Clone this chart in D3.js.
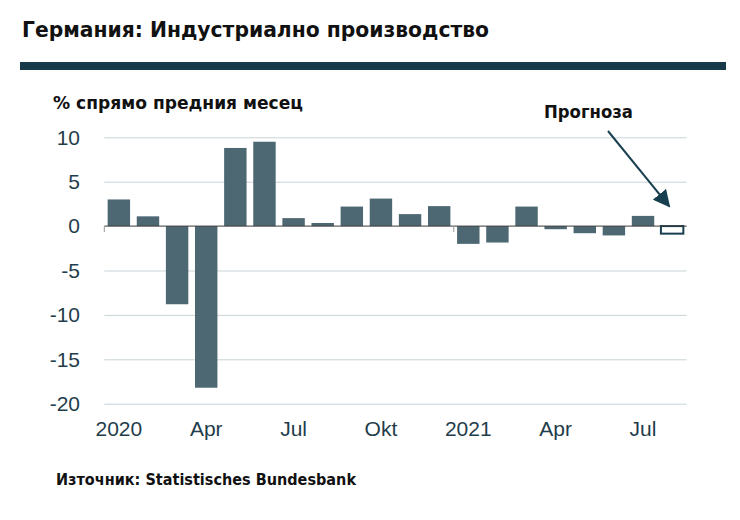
<!DOCTYPE html>
<html>
<head>
<meta charset="utf-8">
<script src="https://cdn.jsdelivr.net/npm/d3@7"></script>
<style>
  body { margin: 0; background: #fff; }
  svg { display: block; }
</style>
</head>
<body>
<script>
/* Data */
const months = ["2020-01","2020-02","2020-03","2020-04","2020-05","2020-06","2020-07","2020-08",
  "2020-09","2020-10","2020-11","2020-12","2021-01","2021-02","2021-03","2021-04","2021-05",
  "2021-06","2021-07","2021-08"];
const values = [3.0, 1.1, -8.8, -18.2, 8.8, 9.5, 0.9, 0.35, 2.2, 3.1, 1.35, 2.25,
  -2.0, -1.85, 2.2, -0.35, -0.8, -1.05, 1.15, -0.85];
const forecastMonth = "2021-08";
const tickMonths = ["2020-01","2020-04","2020-07","2020-10","2021-01","2021-04","2021-07"];
const tickLabels = ["2020","Apr","Jul","Okt","2021","Apr","Jul"];
const yTicks = [-20, -15, -10, -5, 0, 5, 10];
const yearStarts = ["2020-01","2021-01"];

/* Constants */
const w = 740;
const h = 520;
const plotLeft = 104.3, plotRight = 686.7;
const plotTop = 137.3, plotBottom = 403.7;
const barColor = "#4d6873";
const darkTeal = "#173f4f";
const textColor = "#1f3d4b";

const svg = d3.select("body").append("svg")
  .attr("width", w)
  .attr("height", h);

/* Title */
svg.append("text")
  .attr("x", 22).attr("y", 37)
  .attr("font-family", "DejaVu Sans")
  .attr("font-weight", "bold")
  .attr("font-size", 21)
  .attr("textLength", 467)
  .attr("lengthAdjust", "spacingAndGlyphs")
  .attr("fill", "#111")
  .text("Германия: Индустриално производство");

svg.append("rect")
  .attr("x", 20).attr("y", 62)
  .attr("width", 706).attr("height", 8)
  .attr("fill", "#183a48");

svg.append("text")
  .attr("x", 53).attr("y", 109)
  .attr("font-family", "DejaVu Sans")
  .attr("font-weight", "bold")
  .attr("font-size", 17)
  .attr("textLength", 250)
  .attr("lengthAdjust", "spacingAndGlyphs")
  .attr("fill", "#111")
  .text("% спрямо предния месец");

/* Scales */
const xScale = d3.scaleBand()
  .domain(months)
  .range([plotLeft, plotRight])
  .paddingInner(0.23)
  .paddingOuter(0.115);

const yScale = d3.scaleLinear()
  .domain([-20, 10])
  .range([plotBottom, plotTop]);

/* Grid */
const grid = svg.append("g")
  .attr("transform", "translate(" + plotLeft + ",0)")
  .call(d3.axisLeft(yScale).tickValues(yTicks.filter(d => d !== 0))
    .tickSize(-(plotRight - plotLeft)).tickFormat(""));
grid.select(".domain").remove();
grid.selectAll("line").attr("stroke", "#c9d3d7").attr("stroke-width", 1);

/* Y axis labels */
const yAxis = svg.append("g")
  .attr("transform", "translate(80,0)")
  .call(d3.axisLeft(yScale).tickValues(yTicks).tickSize(0).tickPadding(0)
    .tickFormat(d => String(d)));
yAxis.select(".domain").remove();
yAxis.selectAll("text")
  .attr("font-family", "Liberation Sans, Arial, sans-serif")
  .attr("font-size", 21)
  .attr("fill", textColor);

/* Bars */
svg.selectAll("rect.bar")
  .data(months)
  .enter()
  .append("rect")
  .attr("class", "bar")
  .attr("x", d => xScale(d))
  .attr("y", (d, i) => yScale(Math.max(0, values[i])))
  .attr("width", xScale.bandwidth())
  .attr("height", (d, i) => Math.abs(yScale(values[i]) - yScale(0)))
  .attr("fill", d => d === forecastMonth ? "#fff" : barColor)
  .attr("stroke", d => d === forecastMonth ? darkTeal : "none")
  .attr("stroke-width", 2);

/* Zero line */
svg.append("line")
  .attr("x1", plotLeft).attr("x2", plotRight)
  .attr("y1", yScale(0)).attr("y2", yScale(0))
  .attr("stroke", "#3a3a3a").attr("stroke-width", 1);

// year separator ticks
svg.selectAll("line.yeartick")
  .data(yearStarts)
  .enter()
  .append("line")
  .attr("class", "yeartick")
  .attr("x1", d => xScale(d) - xScale.step() * xScale.paddingInner() / 2)
  .attr("x2", d => xScale(d) - xScale.step() * xScale.paddingInner() / 2)
  .attr("y1", yScale(0)).attr("y2", yScale(0) + 6)
  .attr("stroke", "#999").attr("stroke-width", 1);

/* X axis labels */
const xAxis = svg.append("g")
  .attr("transform", "translate(0," + (plotBottom + 17) + ")")
  .call(d3.axisBottom(xScale).tickValues(tickMonths).tickSize(0).tickPadding(0)
    .tickFormat(d => tickLabels[tickMonths.indexOf(d)]));
xAxis.select(".domain").remove();
xAxis.selectAll("text")
  .attr("font-family", "Liberation Sans, Arial, sans-serif")
  .attr("font-size", 21)
  .attr("fill", textColor);

/* Forecast annotation */
svg.append("defs").append("marker")
  .attr("id", "arrow")
  .attr("viewBox", "0 0 10 10")
  .attr("refX", 9).attr("refY", 5)
  .attr("markerWidth", 8.5).attr("markerHeight", 8.5)
  .attr("markerUnits", "strokeWidth")
  .attr("orient", "auto")
  .append("path")
  .attr("d", "M0,0 L10,5 L0,10 Z")
  .attr("fill", darkTeal);

svg.append("text")
  .attr("x", 544).attr("y", 118)
  .attr("font-family", "DejaVu Sans")
  .attr("font-weight", "bold")
  .attr("font-size", 17)
  .attr("textLength", 89)
  .attr("lengthAdjust", "spacingAndGlyphs")
  .attr("fill", "#111")
  .text("Прогноза");

const tipX = xScale(forecastMonth) + xScale.bandwidth() / 2 - 3;
const tipY = yScale(0) - 20;
svg.append("line")
  .attr("x1", 608).attr("y1", 131)
  .attr("x2", tipX).attr("y2", tipY)
  .attr("stroke", darkTeal)
  .attr("stroke-width", 2)
  .attr("marker-end", "url(#arrow)");

/* Source */
svg.append("text")
  .attr("x", 56).attr("y", 485)
  .attr("font-family", "DejaVu Sans")
  .attr("font-weight", "bold")
  .attr("font-size", 15)
  .attr("textLength", 300)
  .attr("lengthAdjust", "spacingAndGlyphs")
  .attr("fill", "#111")
  .text("Източник: Statistisches Bundesbank");
</script>
</body>
</html>
